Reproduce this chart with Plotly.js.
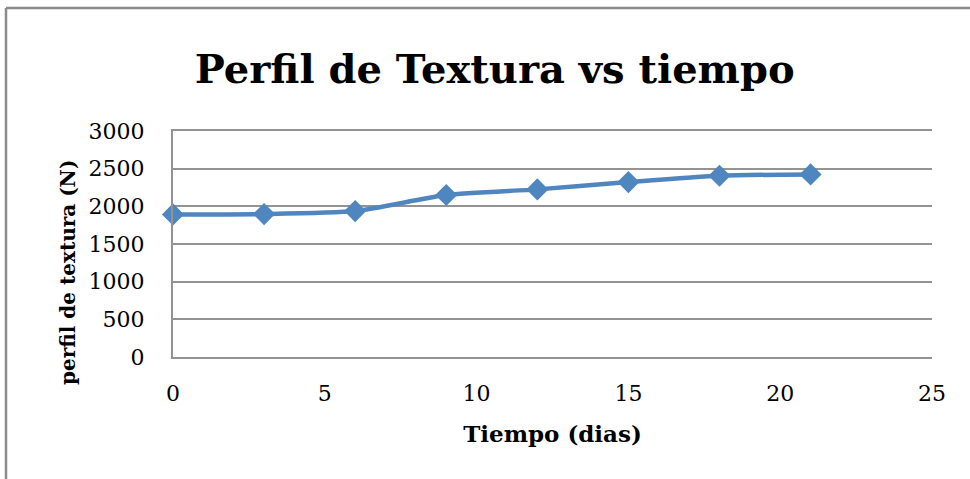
<!DOCTYPE html>
<html>
<head>
<meta charset="utf-8">
<script src="https://cdn.plot.ly/plotly-3.0.1.min.js"></script>
<style>
  html, body { margin: 0; padding: 0; background: #fff; }
  #chart { width: 970px; height: 479px; }
</style>
</head>
<body>
<div id="chart"></div>
<script>
const dias = [0, 3, 6, 9, 12, 15, 18, 21];
const textura = [1893, 1897, 1937, 2150, 2225, 2322, 2406, 2424];
const xTicks = [0, 5, 10, 15, 20, 25];
const yTicks = [0, 500, 1000, 1500, 2000, 2500, 3000];

const titulo = 'Perfil de Textura vs tiempo';
const tituloX = 'Tiempo (dias)';
const tituloY = 'perfil de textura (N)';

const lineColor = '#4F86C0';
const gridColor = '#939393';
const serif = 'DejaVu Serif, serif';

const trace = {
  x: dias,
  y: textura,
  type: 'scatter',
  mode: 'lines+markers',
  line: { color: lineColor, width: 4.5, shape: 'spline', smoothing: 0.6 },
  marker: { symbol: 'diamond', size: 17, color: lineColor },
  cliponaxis: false,
  hoverinfo: 'x+y'
};

const layout = {
  width: 970,
  height: 479,
  margin: { l: 173, r: 38, t: 131, b: 122 },
  paper_bgcolor: '#ffffff',
  plot_bgcolor: '#ffffff',
  showlegend: false,
  title: {
    text: '<b>' + titulo + '</b>',
    font: { family: serif, size: 40, color: '#000' },
    x: 0.51, xanchor: 'center',
    y: 0.855, yanchor: 'middle',
    xref: 'container', yref: 'container'
  },
  xaxis: {
    range: [0, 25],
    tickvals: xTicks,
    ticktext: xTicks.map(String),
    showgrid: false,
    zeroline: false,
    showline: true,
    mirror: true,
    linecolor: gridColor,
    linewidth: 2,
    ticks: '',
    ticklabelstandoff: 16,
    tickfont: { family: serif, size: 22, color: '#000' },
    title: {
      text: '<b>' + tituloX + '</b>',
      font: { family: serif, size: 23, color: '#000' },
      standoff: 20
    }
  },
  yaxis: {
    range: [0, 3000],
    tickvals: yTicks,
    ticktext: yTicks.map(String),
    showgrid: true,
    gridcolor: gridColor,
    gridwidth: 2,
    zeroline: false,
    showline: true,
    linecolor: gridColor,
    linewidth: 2,
    ticks: '',
    ticklabelstandoff: 22,
    tickfont: { family: serif, size: 22, color: '#000' }
  },
  annotations: [
    { text: '<b>' + tituloY + '</b>', textangle: -90,
      xref: 'paper', yref: 'paper',
      x: (68 - 173) / 759, y: (357 - 273) / 226,
      xanchor: 'center', yanchor: 'middle', showarrow: false,
      font: { family: serif, size: 20, color: '#000' } }
  ],
  shapes: [
    { type: 'line', xref: 'paper', yref: 'paper',
      x0: (6 - 173) / 759, x1: 1.06, y0: (357 - 8) / 226, y1: (357 - 8) / 226,
      line: { color: '#8a8a8a', width: 2.5 } },
    { type: 'line', xref: 'paper', yref: 'paper',
      x0: (6 - 173) / 759, x1: (6 - 173) / 759, y0: (357 - 8) / 226, y1: -0.6,
      line: { color: '#8a8a8a', width: 2.5 } }
  ]
};

Plotly.newPlot('chart', [trace], layout, { staticPlot: true, displayModeBar: false });
</script>
</body>
</html>
